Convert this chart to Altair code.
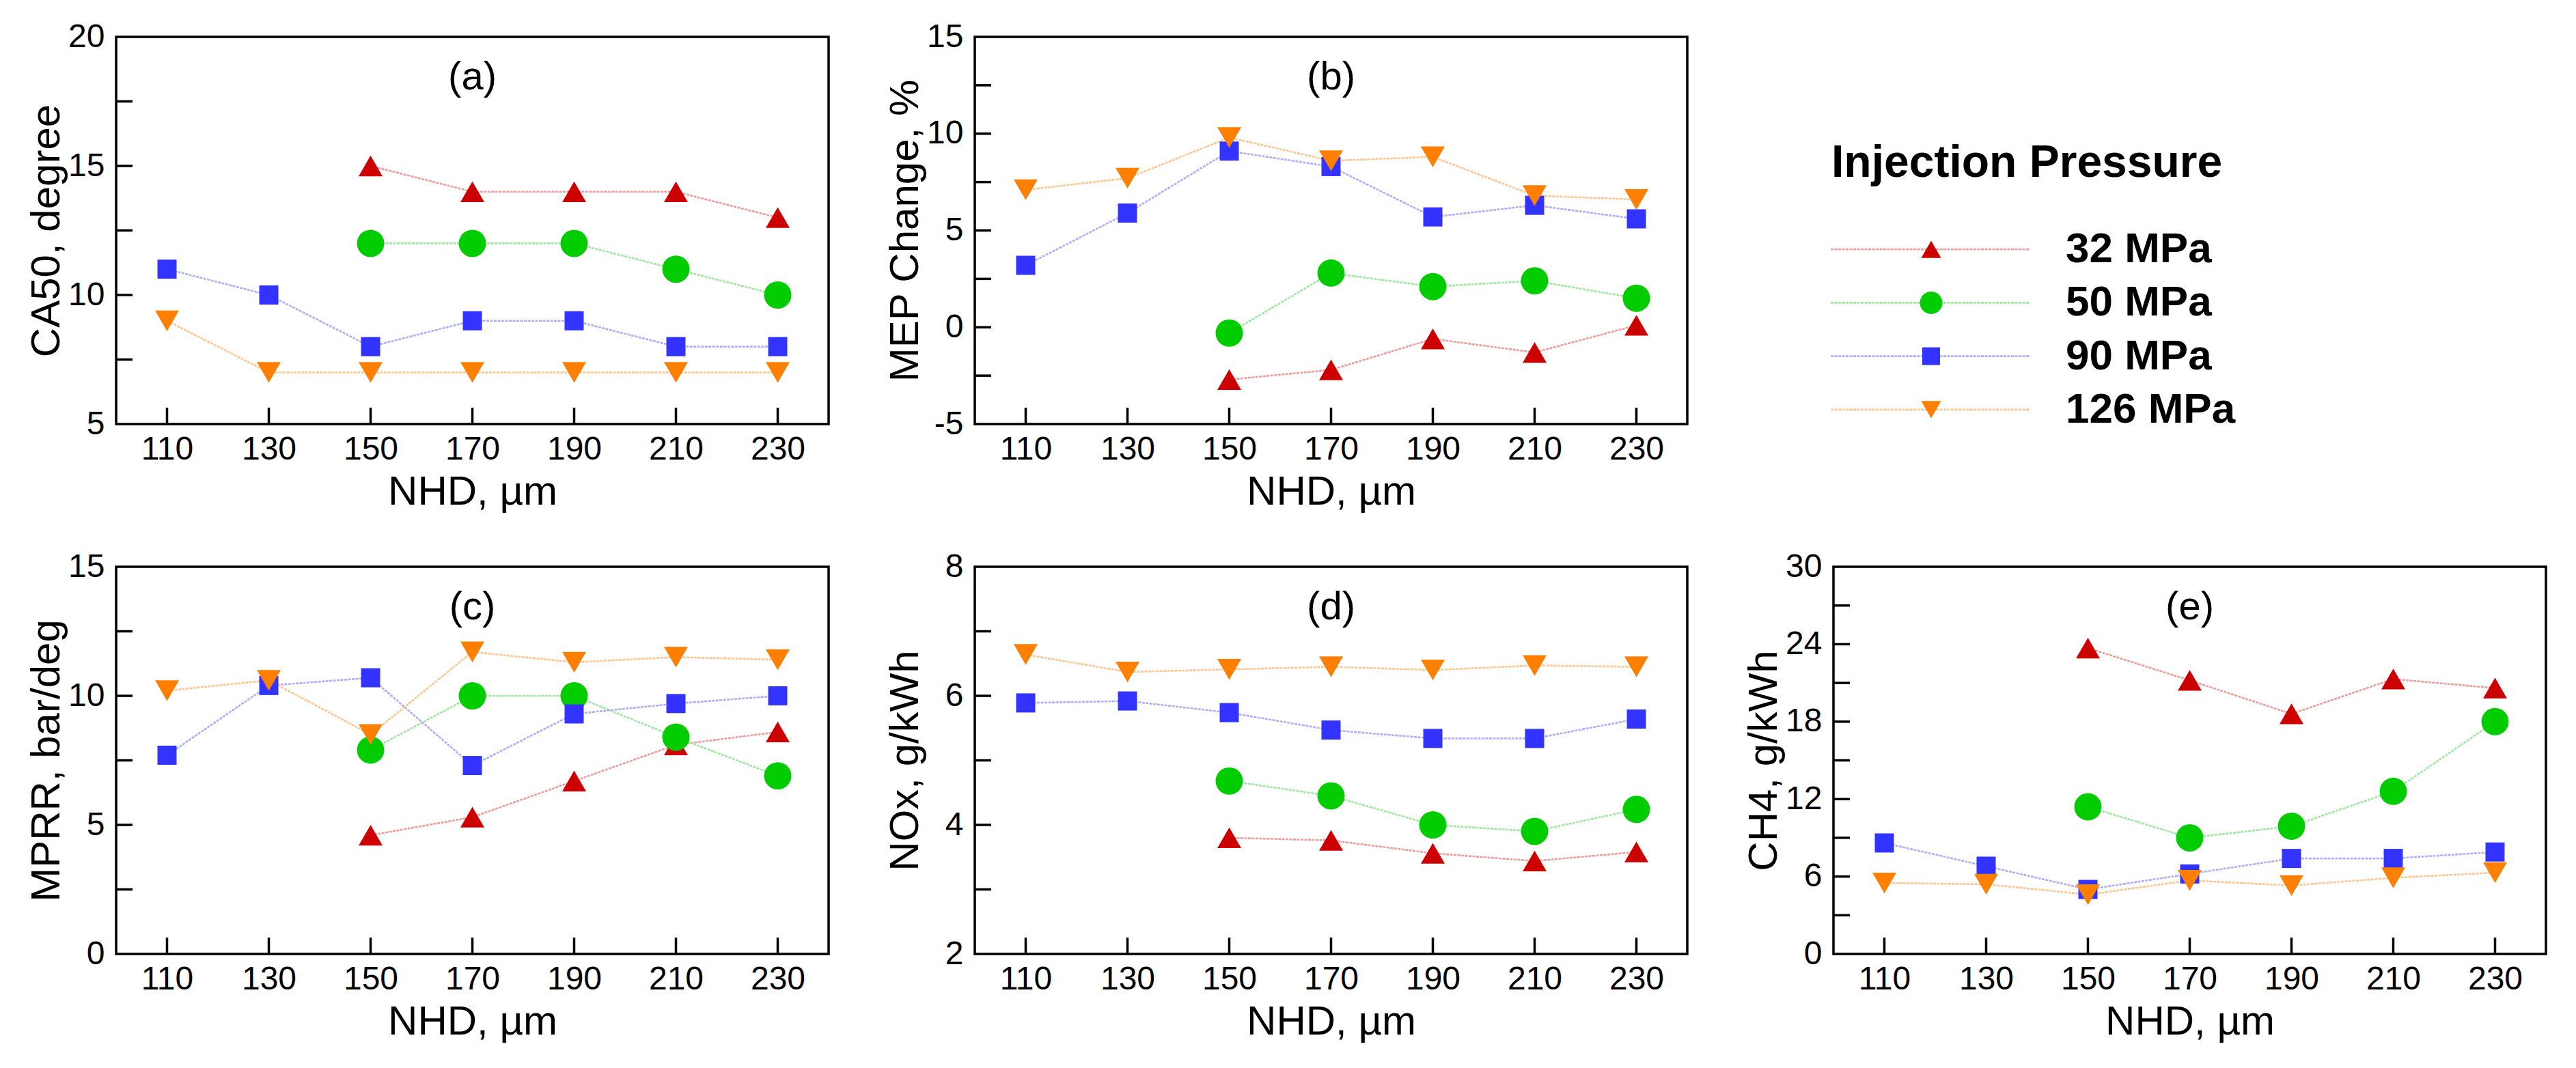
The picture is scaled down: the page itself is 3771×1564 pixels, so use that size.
import altair as alt
import pandas as pd

# ---------------- data ----------------
nhd = [110, 130, 150, 170, 190, 210, 230]
pressures = ["32 MPa", "50 MPa", "90 MPa", "126 MPa"]
legend_title = "Injection Pressure"
panel_labels = ["(a)", "(b)", "(c)", "(d)", "(e)"]
x_title = "NHD, µm"

ca50_32 = [None, None, 15, 14, 14, 14, 13]
ca50_50 = [None, None, 12, 12, 12, 11, 10]
ca50_90 = [11, 10, 8, 9, 9, 8, 8]
ca50_126 = [9, 7, 7, 7, 7, 7, 7]

mep_32 = [None, None, -2.7, -2.2, -0.6, -1.3, 0.1]
mep_50 = [None, None, -0.3, 2.8, 2.1, 2.4, 1.5]
mep_90 = [3.2, 5.9, 9.1, 8.3, 5.7, 6.3, 5.6]
mep_126 = [7.1, 7.7, 9.8, 8.6, 8.8, 6.8, 6.6]

mprr_32 = [None, None, 4.6, 5.3, 6.7, 8.1, 8.6]
mprr_50 = [None, None, 7.9, 10.0, 10.0, 8.4, 6.9]
mprr_90 = [7.7, 10.4, 10.7, 7.3, 9.3, 9.7, 10.0]
mprr_126 = [10.2, 10.6, 8.5, 11.7, 11.3, 11.5, 11.4]

nox_32 = [None, None, 3.8, 3.76, 3.56, 3.44, 3.58]
nox_50 = [None, None, 4.68, 4.45, 4.0, 3.9, 4.24]
nox_90 = [5.89, 5.92, 5.74, 5.47, 5.34, 5.34, 5.64]
nox_126 = [6.64, 6.37, 6.41, 6.45, 6.4, 6.47, 6.45]

ch4_32 = [None, None, 23.7, 21.2, 18.6, 21.3, 20.6]
ch4_50 = [None, None, 11.4, 9.0, 9.9, 12.6, 18.0]
ch4_90 = [8.6, 6.8, 5.0, 6.2, 7.4, 7.4, 7.9]
ch4_126 = [5.5, 5.4, 4.6, 5.7, 5.3, 5.9, 6.3]

# ---------------- styles ----------------
W, H = 1043, 567
FONT = "Liberation Sans, Arial, sans-serif"
marker_colors = ["#cc0000", "#00cc00", "#3333ff", "#ff7f00"]
line_colors = ["#f29a9a", "#9ee89e", "#adadff", "#ffc48f"]
shapes = ["triangle-up", "circle", "square", "triangle-down"]
sizes = [1225, 1600, 784, 1225]
leg_sizes = [841, 1089, 676, 841]
DASH = [4, 1.5]
TICK = 24
FRAME = 3.5


def panel(series, ytitle, ydom, ymajor, yminor, label):
    rows = []
    for p, vals in zip(pressures, series):
        for x, v in zip(nhd, vals):
            if v is not None:
                rows.append({"NHD": x, "v": v, "p": p})
    df = pd.DataFrame(rows)

    xs = alt.Scale(domain=[100, 240], nice=False, zero=False)
    ys = alt.Scale(domain=ydom, nice=False, zero=False)
    xax = alt.Axis(values=nhd, title=x_title, labelPadding=13, titleY=117,
                   titleBaseline="alphabetic", labelFlush=False)
    yax = alt.Axis(values=ymajor, title=ytitle, labelPadding=17, titleX=-84,
                   titleAngle=270, titleBaseline="alphabetic", labelFlush=False,
                   labelExpr="'' + datum.value")

    layers = []
    xt = alt.Chart(pd.DataFrame({"t": nhd})).mark_rule(
        color="black", strokeWidth=FRAME).encode(
        x=alt.X("t:Q", scale=xs, axis=xax),
        y=alt.value(H), y2=alt.value(H - TICK))
    inner = [t for t in sorted(ymajor + yminor) if ydom[0] < t < ydom[1]]
    yt = alt.Chart(pd.DataFrame({"t": inner})).mark_rule(
        color="black", strokeWidth=FRAME).encode(
        y=alt.Y("t:Q", scale=ys, axis=yax),
        x=alt.value(0), x2=alt.value(TICK))
    layers += [xt, yt]

    for p, lc in zip(pressures, line_colors):
        sub = df[df["p"] == p]
        if len(sub) == 0:
            continue
        layers.append(alt.Chart(sub).mark_line(
            color=lc, strokeWidth=2.6, strokeDash=DASH).encode(
            x=alt.X("NHD:Q", scale=xs, axis=xax),
            y=alt.Y("v:Q", scale=ys, axis=yax)))
    for p, mc, shp, sz in zip(pressures, marker_colors, shapes, sizes):
        sub = df[df["p"] == p]
        if len(sub) == 0:
            continue
        layers.append(alt.Chart(sub).mark_point(
            shape=shp, size=sz, filled=True, color=mc, opacity=1).encode(
            x=alt.X("NHD:Q", scale=xs, axis=xax),
            y=alt.Y("v:Q", scale=ys, axis=yax)))

    layers.append(alt.Chart(pd.DataFrame({"t": [label]})).mark_text(
        font=FONT, fontSize=58, align="center", baseline="alphabetic",
        color="black").encode(text="t:N", x=alt.value(W / 2), y=alt.value(77)))

    return alt.layer(*layers).properties(
        width=W, height=H,
        view=alt.ViewBackground(stroke="black", strokeWidth=FRAME))


def legend_panel():
    # point scale keeps half a step of outer padding: rows land at 311 ... 546
    ly = alt.Scale(domain=pressures, range=[272, 585])
    layers = [alt.Chart(pd.DataFrame({"t": [legend_title]})).mark_text(
        font=FONT, fontSize=66, fontWeight="bold", align="left",
        baseline="alphabetic", color="black").encode(
        text="t:N", x=alt.value(-3), y=alt.value(205))]
    for p, mc, lc, shp, sz in zip(pressures, marker_colors, line_colors, shapes, leg_sizes):
        d = pd.DataFrame({"p": [p]})
        layers.append(alt.Chart(d).mark_rule(
            color=lc, strokeWidth=2.6, strokeDash=DASH).encode(
            y=alt.Y("p:N", scale=ly, axis=None), x=alt.value(-4), x2=alt.value(288)))
        layers.append(alt.Chart(d).mark_point(
            shape=shp, size=sz, filled=True, color=mc, opacity=1).encode(
            y=alt.Y("p:N", scale=ly, axis=None), x=alt.value(143)))
        layers.append(alt.Chart(d).mark_text(
            font=FONT, fontSize=62, fontWeight="bold", align="left",
            baseline="middle", color="black").encode(
            y=alt.Y("p:N", scale=ly, axis=None), x=alt.value(340), text="p:N"))
    return alt.layer(*layers).properties(width=W, height=H)


pa = panel([ca50_32, ca50_50, ca50_90, ca50_126], "CA50, degree",
           [5, 20], [5, 10, 15, 20], [7.5, 12.5, 17.5], panel_labels[0])
pb = panel([mep_32, mep_50, mep_90, mep_126], "MEP Change, %",
           [-5, 15], [-5, 0, 5, 10, 15], [-2.5, 2.5, 7.5, 12.5], panel_labels[1])
pc = panel([mprr_32, mprr_50, mprr_90, mprr_126], "MPRR, bar/deg",
           [0, 15], [0, 5, 10, 15], [2.5, 7.5, 12.5], panel_labels[2])
pd_ = panel([nox_32, nox_50, nox_90, nox_126], "NOx, g/kWh",
            [2, 8], [2, 4, 6, 8], [3, 5, 7], panel_labels[3])
pe = panel([ch4_32, ch4_50, ch4_90, ch4_126], "CH4, g/kWh",
           [0, 30], [0, 6, 12, 18, 24, 30], [3, 9, 15, 21, 27], panel_labels[4])

chart = alt.concat(
    pa, pb, legend_panel(), pc, pd_, pe,
    columns=3, spacing=alt.RowColnumber(row=209, column=214), bounds="flush"
).properties(
    padding={"left": 28, "top": 20, "right": 5, "bottom": 5}
).configure_axis(
    labelFont=FONT, titleFont=FONT, labelFontSize=48, titleFontSize=60,
    titleFontWeight="normal", labelColor="black", titleColor="black",
    domain=False, ticks=False, tickSize=0, grid=False
).configure_view(stroke="transparent")

chart.save("out.html", embed_options={"renderer": "svg", "actions": False})
